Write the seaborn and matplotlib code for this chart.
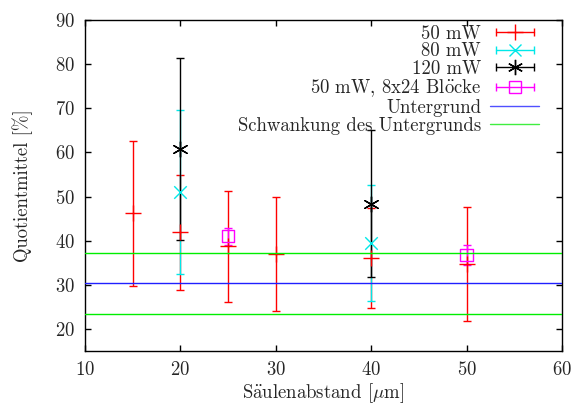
import matplotlib
matplotlib.use("Agg")
import matplotlib.pyplot as plt
import seaborn as sns
import pandas as pd
from matplotlib.lines import Line2D
from matplotlib.legend_handler import HandlerLine2D, HandlerTuple

# 50 mW
x_50 = [15, 20, 25, 30, 40, 50]
y_50 = [46.2, 41.9, 38.7, 36.9, 36.1, 34.7]
e_50 = [16.4, 13.0, 12.6, 12.9, 11.4, 13.0]

# 80 mW
x_80 = [20, 40]
y_80 = [51.0, 39.5]
e_80 = [18.5, 13.2]

# 120 mW
x_120 = [20, 40]
y_120 = [60.7, 48.4]
e_120 = [20.6, 16.6]

# 50 mW, 8x24 Bloecke
x_blk = [25, 50]
y_blk = [41.0, 36.8]
e_blk = [1.9, 2.3]

untergrund = 30.3
schwankung = 7.0

labels = ["50 mW", "80 mW", "120 mW", r"50 mW, 8x24 Bl$\ddot{\mathrm{o}}$cke",
          "Untergrund", "Schwankung des Untergrunds"]

series = [
    (labels[0], x_50, y_50, e_50, "#ff0000", "+", 11, "full"),
    (labels[1], x_80, y_80, e_80, "#00e8e8", "x", 9, "full"),
    (labels[2], x_120, y_120, e_120, "#000000", (6, 2, 0), 11, "full"),
    (labels[3], x_blk, y_blk, e_blk, "#ff00ff", "s", 9, "none"),
]

FS = 13.5
sns.set_style("ticks")
plt.rcParams["font.family"] = ["cmr10", "DejaVu Serif"]
plt.rcParams["mathtext.fontset"] = "cm"
plt.rcParams["mathtext.rm"] = "cmr10"
plt.rcParams["axes.formatter.use_mathtext"] = True
plt.rcParams["font.size"] = FS

fig = plt.figure(figsize=(5.73, 4.07), dpi=100)
ax = fig.add_axes([0.1483, 0.1376, 0.8325, 0.8133])

handles = []
hmap = {}
for label, xs, ys, es, col, mk, ms, fill in series:
    df = pd.DataFrame({"x": xs, "y": ys, "e": es})
    ax.errorbar(df["x"], df["y"], yerr=df["e"], fmt="none", ecolor=col,
                elinewidth=1, capsize=3, capthick=1, zorder=2)
    sns.scatterplot(data=df, x="x", y="y", ax=ax, marker=mk, s=ms ** 2,
                    color=col if fill == "full" else "none",
                    edgecolor=col if fill == "none" else None,
                    linewidth=1, zorder=3, legend=False)
    bar = Line2D([0], [0], color=col, lw=1, marker="|", ms=6, mew=1)
    mark = Line2D([0], [0], color=col, lw=0, marker=mk, ms=ms,
                  mew=1, fillstyle=fill)
    hmap[bar] = HandlerLine2D(numpoints=2)
    handles.append(((bar, mark), label))

ax.axhline(untergrund, color="#2020ff", lw=1, zorder=4)
ax.axhline(untergrund + schwankung, color="#00ee00", lw=1, zorder=4)
ax.axhline(untergrund - schwankung, color="#00ee00", lw=1, zorder=4)
handles.append((Line2D([0], [0], color="#5050ff", lw=1), labels[4]))
handles.append((Line2D([0], [0], color="#40ee40", lw=1), labels[5]))

ax.set_xlim(10, 60)
ax.set_ylim(15, 90)
ax.set_xticks([10, 20, 30, 40, 50, 60])
ax.set_yticks([20, 30, 40, 50, 60, 70, 80, 90])
ax.tick_params(direction="in", length=4, width=1, top=True, right=True,
               labelsize=FS, pad=7, color="black")
for sp in ax.spines.values():
    sp.set_visible(True)
    sp.set_linewidth(1)
    sp.set_color("black")

ax.set_xlabel(r"S$\ddot{\mathrm{a}}$ulenabstand [$\mathrm{\mu}$m]", fontsize=FS, labelpad=2)
ax.set_ylabel("Quotientmittel [%]", fontsize=FS, labelpad=16)

hmap[tuple] = HandlerTuple(ndivide=1, pad=0)
leg = ax.legend([h for h, _ in handles], [l for _, l in handles],
                loc="upper right", bbox_to_anchor=(0.968, 1.008),
                frameon=False, markerfirst=False, handlelength=2.6,
                handletextpad=0.5, labelspacing=-0.02, borderaxespad=0.0,
                handler_map=hmap, fontsize=FS)

fig.savefig("out.png", dpi=100)
